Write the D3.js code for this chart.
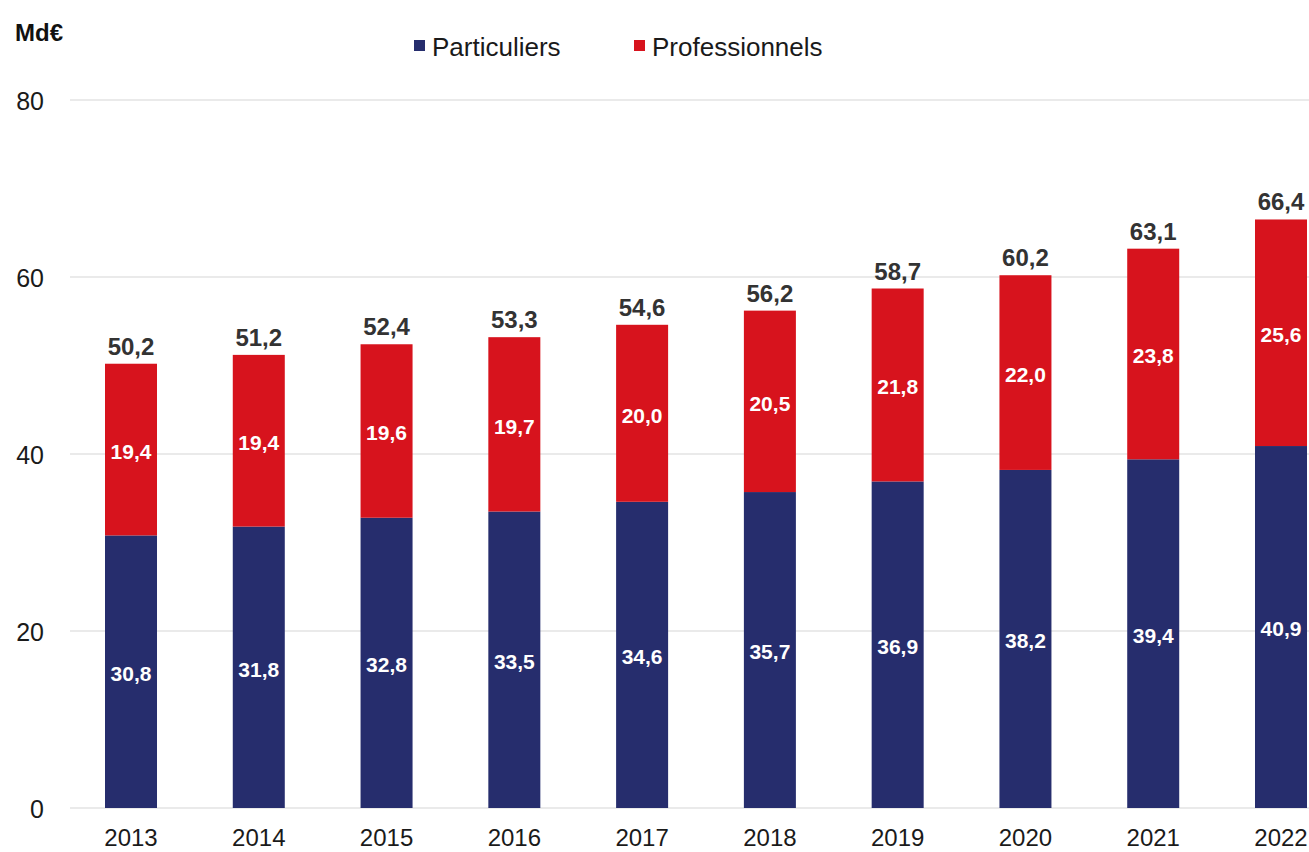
<!DOCTYPE html>
<html><head><meta charset="utf-8">
<script src="https://cdn.jsdelivr.net/npm/d3@7"></script>
<style>body{margin:0;background:#fff}svg{display:block;font-family:"Liberation Sans",Arial,sans-serif}</style>
</head><body><svg id="c" width="1309" height="852"></svg>
<script>
const years = ["2013","2014","2015","2016","2017","2018","2019","2020","2021","2022"];
const particuliers = [30.8,31.8,32.8,33.5,34.6,35.7,36.9,38.2,39.4,40.9];
const professionnels = [19.4,19.4,19.6,19.7,20.0,20.5,21.8,22.0,23.8,25.6];
const totals = [50.2,51.2,52.4,53.3,54.6,56.2,58.7,60.2,63.1,66.4];
const yTicks = [0,20,40,60,80];
const seriesNames = ["Particuliers","Professionnels"];
const colors = ["#262d6d","#d7131d"];

const svg = d3.select("#c");
const fmt = v => d3.format(".1f")(v).replace(".", ",");
const x = d3.scaleBand().domain(years).range([105,1307]).paddingInner(0.593).paddingOuter(0);
const y = d3.scaleLinear().domain([0,80]).range([808,100]);

// gridlines
svg.append("g").selectAll("line").data(yTicks).join("line")
  .attr("x1",70).attr("x2",1309).attr("y1",d=>y(d)).attr("y2",d=>y(d))
  .attr("stroke","#e3e3e3").attr("stroke-width",1.5);

// y labels
const yAxis = d3.axisLeft(y).tickValues(yTicks).tickSize(0).tickPadding(0);
const gy = svg.append("g").attr("transform","translate(44,1)").call(yAxis);
gy.select(".domain").remove();
gy.selectAll("text").attr("font-size",25).attr("fill","#1a1a1a").attr("font-family","Liberation Sans, Arial, sans-serif");

// x labels
const xAxis = d3.axisBottom(x).tickSize(0).tickPadding(0);
const gx = svg.append("g").attr("transform","translate(0,829)").call(xAxis);
gx.select(".domain").remove();
gx.selectAll("text").attr("font-size",24).attr("fill","#1a1a1a").attr("font-family","Liberation Sans, Arial, sans-serif");

const data = years.map((yr,i)=>({year:yr, Particuliers:particuliers[i], Professionnels:professionnels[i], total:totals[i]}));
const stack = d3.stack().keys(seriesNames)(data);

const layers = svg.append("g").selectAll("g").data(stack).join("g").attr("fill",(d,i)=>colors[i]);
layers.selectAll("rect").data(d=>d).join("rect")
  .attr("x",d=>x(d.data.year)).attr("width",x.bandwidth())
  .attr("y",d=>y(d[1])).attr("height",d=>y(d[0])-y(d[1]));

// segment labels
const lab = svg.append("g").selectAll("g").data(stack).join("g");
lab.selectAll("text").data(d=>d).join("text")
  .attr("x",d=>x(d.data.year)+x.bandwidth()/2)
  .attr("y",d=>(y(d[0])+y(d[1]))/2+2)
  .attr("dy","0.35em").attr("text-anchor","middle")
  .attr("font-size",21).attr("font-weight","bold").attr("fill","#fff")
  .text(d=>fmt(d[1]-d[0]));

// totals
svg.append("g").selectAll("text").data(data).join("text")
  .attr("x",d=>x(d.year)+x.bandwidth()/2)
  .attr("y",d=>y(d.Particuliers+d.Professionnels)-9)
  .attr("text-anchor","middle").attr("font-size",24).attr("font-weight","bold").attr("fill","#333")
  .text(d=>fmt(d.total));

// unit
svg.append("text").attr("x",15).attr("y",41).attr("font-size",24).attr("font-weight","bold").attr("fill","#111").text("Md€");

// legend
const legX = [414,634];
const leg = svg.append("g").selectAll("g").data(seriesNames).join("g")
  .attr("transform",(d,i)=>`translate(${legX[i]},0)`);
leg.append("rect").attr("x",0).attr("y",40).attr("width",11).attr("height",11).attr("fill",(d,i)=>colors[i]);
leg.append("text").attr("x",18).attr("y",56).attr("font-size",26).attr("fill","#1a1a1a").text(d=>d);
</script></body></html>
